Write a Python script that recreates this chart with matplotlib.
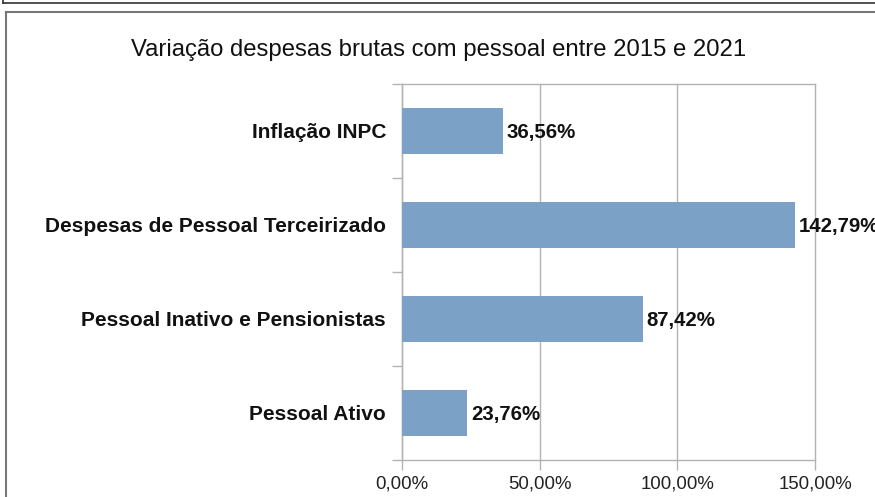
import matplotlib
matplotlib.use("Agg")
import matplotlib.pyplot as plt
from matplotlib.lines import Line2D
from matplotlib.ticker import FuncFormatter, FixedLocator

categories = ["Inflação INPC", "Despesas de Pessoal Terceirizado",
              "Pessoal Inativo e Pensionistas", "Pessoal Ativo"]
values = [36.56, 142.79, 87.42, 23.76]
value_labels = ["36,56%", "142,79%", "87,42%", "23,76%"]
xticks = [0, 50, 100, 150]
title = "Variação despesas brutas com pessoal entre 2015 e 2021"

plt.rcParams['font.family'] = ['Liberation Sans', 'DejaVu Sans']

W, H = 875, 497
fig = plt.figure(figsize=(W / 100, H / 100), dpi=100)

# frames
fig.add_artist(Line2D([3 / W, 1], [1 - 3 / H, 1 - 3 / H], color="#333333", lw=1.2))
fig.add_artist(Line2D([3 / W, 3 / W], [1, 1 - 3 / H], color="#333333", lw=1.2))
fig.add_artist(Line2D([6 / W, 1], [1 - 12 / H, 1 - 12 / H], color="#777777", lw=1.5))
fig.add_artist(Line2D([6 / W, 6 / W], [0, 1 - 12 / H], color="#777777", lw=1.5))

left, right = 402, 815
top, bottom = 84, 460
ax = fig.add_axes([left / W, 1 - bottom / H, (right - left) / W, (bottom - top) / H])

ypos = list(range(len(categories)))
bar_color = "#7ca1c6"
ax.barh(ypos, values, height=0.49, color=bar_color, zorder=3)
ax.set_xlim(0, 150)
ax.set_ylim(len(categories) - 0.5, -0.5)

for y, v, lab in zip(ypos, values, value_labels):
    ax.text(v + 1.4, y + 0.02, lab, va="center", ha="left", fontsize=14.7,
            fontweight="bold", color="#111111", zorder=4, clip_on=False)

ax.set_xticks(xticks)
ax.xaxis.set_major_formatter(FuncFormatter(lambda x, p: f"{x:.2f}".replace(".", ",") + "%"))
ax.grid(axis="x", color="#b3b3b3", lw=1, zorder=0)
for gl in ax.get_xgridlines():
    gl.set_clip_on(False)
ax.set_yticks(ypos)
ax.set_yticklabels(categories, fontsize=15, fontweight="bold", color="#111111")
ax.yaxis.set_minor_locator(FixedLocator([i - 0.5 for i in range(len(categories) + 1)]))
ax.tick_params(axis="y", which="major", length=0, pad=11.5)
ax.tick_params(axis="y", which="minor", length=7, color="#b3b3b3", width=1)
ax.tick_params(axis="x", length=7, color="#b3b3b3", width=1, labelsize=13.4,
               labelcolor="#222222", pad=4)
ax.spines["right"].set_visible(False)
for s in ["left", "bottom", "top"]:
    ax.spines[s].set_color("#b3b3b3")
    ax.spines[s].set_linewidth(1)

fig.text(439 / W, 1 - 50 / H, title, ha="center", va="center", fontsize=17.2, color="#111111")

fig.savefig("out.png", dpi=100)
